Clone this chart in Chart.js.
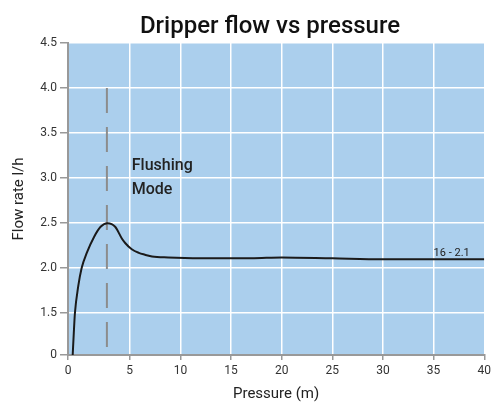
<!DOCTYPE html>
<html>
<head>
<meta charset="utf-8">
<script src="https://cdn.jsdelivr.net/npm/chart.js@4/dist/chart.umd.min.js"></script>
<style>
  html, body { margin: 0; padding: 0; background: #fff; }
  #wrap { width: 495px; height: 403px; }
</style>
</head>
<body>
<div id="wrap"><canvas id="chart" width="495" height="403"></canvas></div>
<script>
// flow curve (pressure m, flow l/h)
var pressure = [0.38, 0.47, 0.56, 0.83, 1.10, 1.52, 2.12, 2.64, 3.2, 3.82, 4.36, 4.63, 5.2, 5.9, 6.5, 7.2, 8.8, 13.7, 17, 20, 25, 30, 35, 40];
var flow     = [0,    0.8,  1.5,  1.80, 2.0,  2.17, 2.35, 2.46, 2.5, 2.46, 2.33, 2.28, 2.21, 2.17, 2.15, 2.13, 2.12, 2.11, 2.11, 2.12, 2.11, 2.1, 2.1, 2.1];

var flushX = [3.15, 3.15];
var flushY = [4.0, 0];

var xTicks = [0, 5, 10, 15, 20, 25, 30, 35, 40];
var yTicks = [0, 1.5, 2.0, 2.5, 3.0, 3.5, 4.0, 4.5];
var yTickLabels = ["0", "1.5", "2.0", "2.5", "3.0", "3.5", "4.0", "4.5"];

var notes = [
  { x: 5.2, y: 3.13, text: "Flushing", size: 16 },
  { x: 5.2, y: 2.87, text: "Mode", size: 16 },
  { x: 35.0, y: 2.17, text: "16 - 2.1", size: 11 }
];

var titleText = "Dripper flow vs pressure";

// both axes are squeezed near the origin in the original
function fx(v) {
  if (v >= 5) return v;
  return 5 - (5 - v) * 1.219;
}
function fy(v) {
  if (v >= 1.5) return v;
  return 1.5 - (1.5 - v) * 0.309;
}

var curve = [];
for (var i = 0; i < pressure.length; i++) curve.push({ x: fx(pressure[i]), y: fy(flow[i]) });
var dash = [];
for (var j = 0; j < flushX.length; j++) dash.push({ x: fx(flushX[j]), y: fy(flushY[j]) });

var font = "'Roboto', 'Liberation Sans', sans-serif";

var bgPlugin = {
  id: "bg",
  beforeDraw: function(c) {
    var a = c.chartArea;
    c.ctx.save();
    c.ctx.fillStyle = "#abcfed";
    c.ctx.fillRect(a.left, a.top, a.right - a.left, a.bottom - a.top);
    c.ctx.restore();
  }
};

var notePlugin = {
  id: "notes",
  afterDatasetsDraw: function(c) {
    var ctx = c.ctx;
    ctx.save();
    ctx.fillStyle = "#222";
    ctx.textBaseline = "middle";
    ctx.textAlign = "left";
    for (var i = 0; i < notes.length; i++) {
      ctx.font = (notes[i].size > 12 ? "500 " : "") + notes[i].size + "px " + font;
      ctx.fillText(notes[i].text, c.scales.x.getPixelForValue(fx(notes[i].x)), c.scales.y.getPixelForValue(fy(notes[i].y)));
    }
    // title, slightly right of the canvas centre like the original
    ctx.fillStyle = "#111";
    ctx.textAlign = "center";
    ctx.textBaseline = "alphabetic";
    ctx.font = "500 24px " + font;
    ctx.fillText(titleText, 270, 33);
    ctx.restore();
  }
};

new Chart(document.getElementById("chart"), {
  type: "line",
  data: {
    datasets: [
      {
        data: curve,
        borderColor: "#1a1a1a",
        borderWidth: 2,
        pointRadius: 0,
        cubicInterpolationMode: "monotone",
        fill: false
      },
      {
        data: dash,
        borderColor: "#8c8c8c",
        borderWidth: 2,
        borderDash: [25, 14],
        pointRadius: 0,
        fill: false
      }
    ]
  },
  options: {
    responsive: false,
    animation: false,
    layout: { padding: { left: 0, right: 7, top: 43, bottom: 0 } },
    plugins: {
      legend: { display: false },
      tooltip: { enabled: false },
      title: { display: false }
    },
    scales: {
      x: {
        type: "linear",
        min: fx(0),
        max: 40,
        afterBuildTicks: function(s) {
          s.ticks = xTicks.map(function(v) { return { value: fx(v) }; });
        },
        afterFit: function(s) { s.height = 48; },
        ticks: {
          color: "#333",
          font: { family: font, size: 12 },
          padding: 4,
          maxRotation: 0,
          callback: function(v, idx) { return String(xTicks[idx]); }
        },
        grid: { color: "#ffffff", lineWidth: 1.5, tickColor: "#999", tickLength: 5 },
        border: { color: "#999", width: 2 },
        title: {
          display: true,
          text: "Pressure (m)",
          color: "#222",
          font: { family: font, size: 15 },
          padding: { top: 0, bottom: 0 }
        }
      },
      y: {
        type: "linear",
        min: fy(0),
        max: 4.5,
        afterBuildTicks: function(s) {
          s.ticks = yTicks.map(function(v) { return { value: fy(v) }; });
        },
        afterFit: function(s) { s.width = 68; },
        ticks: {
          color: "#333",
          font: { family: font, size: 12 },
          padding: 3,
          callback: function(v, idx) { return yTickLabels[idx]; }
        },
        grid: { color: "#ffffff", lineWidth: 1.5, tickColor: "#999", tickLength: 8 },
        border: { color: "#999", width: 2 },
        title: {
          display: true,
          text: "Flow rate l/h",
          color: "#222",
          font: { family: font, size: 15 },
          padding: { top: 10, bottom: 6 }
        }
      }
    }
  },
  plugins: [bgPlugin, notePlugin]
});
</script>
</body>
</html>
